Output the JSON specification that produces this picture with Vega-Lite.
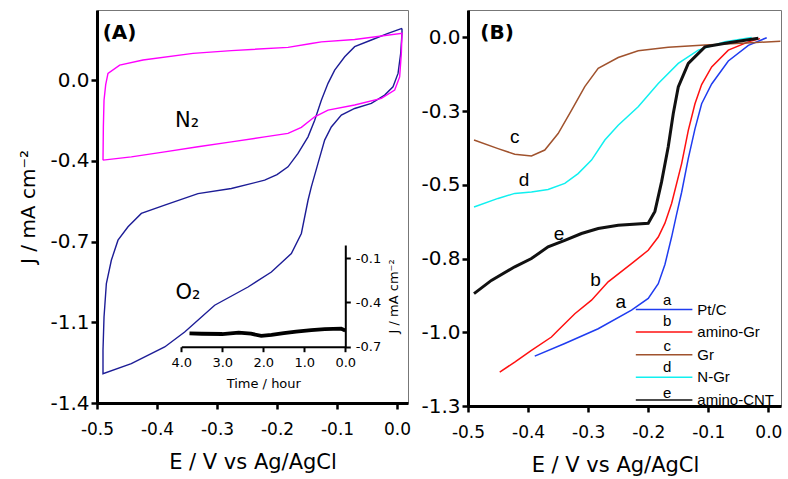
{
  "$schema": "https://vega.github.io/schema/vega-lite/v6.json",
  "padding": {"left": 18, "top": 9, "right": 0, "bottom": 0},
  "bounds": "flush",
  "spacing": 60,
  "resolve": {"scale": {"color": "independent"}, "legend": {"color": "independent"}},
  "config": {
    "font": "Liberation Sans",
    "locale": {"number": {"decimal": ".", "thousands": ",", "grouping": [3], "currency": ["$", ""], "minus": "-"}},
    "view": {"stroke": "#777777", "strokeWidth": 1},
    "axis": {
      "labelFont": "DejaVu Sans", "titleFont": "DejaVu Sans",
      "domainColor": "#000000", "tickColor": "#000000", "labelColor": "#000000", "titleColor": "#000000",
      "titleFontWeight": "normal", "grid": false, "domainWidth": 3, "tickWidth": 2.5, "tickSize": 6,
      "labelOverlap": false, "labelFlush": false
    },
    "text": {"font": "Liberation Sans", "color": "#000000"}
  },
  "datasets": {
    "cv": [
      {"s": "O2", "i": 0, "E": 0.0083, "J": 0.224},
      {"s": "O2", "i": 1, "E": -0.015, "J": 0.203},
      {"s": "O2", "i": 2, "E": -0.0428, "J": 0.174},
      {"s": "O2", "i": 3, "E": -0.0706, "J": 0.145},
      {"s": "O2", "i": 4, "E": -0.0872, "J": 0.101},
      {"s": "O2", "i": 5, "E": -0.1039, "J": 0.043},
      {"s": "O2", "i": 6, "E": -0.115, "J": -0.014},
      {"s": "O2", "i": 7, "E": -0.1261, "J": -0.087},
      {"s": "O2", "i": 8, "E": -0.1372, "J": -0.174},
      {"s": "O2", "i": 9, "E": -0.1483, "J": -0.246},
      {"s": "O2", "i": 10, "E": -0.165, "J": -0.318},
      {"s": "O2", "i": 11, "E": -0.1817, "J": -0.376},
      {"s": "O2", "i": 12, "E": -0.2, "J": -0.41},
      {"s": "O2", "i": 13, "E": -0.2206, "J": -0.434},
      {"s": "O2", "i": 14, "E": -0.2761, "J": -0.47},
      {"s": "O2", "i": 15, "E": -0.3317, "J": -0.492},
      {"s": "O2", "i": 16, "E": -0.3872, "J": -0.542},
      {"s": "O2", "i": 17, "E": -0.4261, "J": -0.578},
      {"s": "O2", "i": 18, "E": -0.4483, "J": -0.636},
      {"s": "O2", "i": 19, "E": -0.465, "J": -0.694},
      {"s": "O2", "i": 20, "E": -0.4761, "J": -0.781},
      {"s": "O2", "i": 21, "E": -0.4844, "J": -0.882},
      {"s": "O2", "i": 22, "E": -0.4883, "J": -1.027},
      {"s": "O2", "i": 23, "E": -0.49, "J": -1.171},
      {"s": "O2", "i": 24, "E": -0.49, "J": -1.273},
      {"s": "O2", "i": 25, "E": -0.4428, "J": -1.229},
      {"s": "O2", "i": 26, "E": -0.3872, "J": -1.157},
      {"s": "O2", "i": 27, "E": -0.3539, "J": -1.092},
      {"s": "O2", "i": 28, "E": -0.3039, "J": -0.976},
      {"s": "O2", "i": 29, "E": -0.2483, "J": -0.897},
      {"s": "O2", "i": 30, "E": -0.2094, "J": -0.832},
      {"s": "O2", "i": 31, "E": -0.1761, "J": -0.752},
      {"s": "O2", "i": 32, "E": -0.1594, "J": -0.665},
      {"s": "O2", "i": 33, "E": -0.1483, "J": -0.521},
      {"s": "O2", "i": 34, "E": -0.1428, "J": -0.463},
      {"s": "O2", "i": 35, "E": -0.1317, "J": -0.361},
      {"s": "O2", "i": 36, "E": -0.1206, "J": -0.26},
      {"s": "O2", "i": 37, "E": -0.1095, "J": -0.203},
      {"s": "O2", "i": 38, "E": -0.0928, "J": -0.152},
      {"s": "O2", "i": 39, "E": -0.0706, "J": -0.123},
      {"s": "O2", "i": 40, "E": -0.0428, "J": -0.101},
      {"s": "O2", "i": 41, "E": -0.0206, "J": -0.065},
      {"s": "O2", "i": 42, "E": -0.0067, "J": -0.029},
      {"s": "O2", "i": 43, "E": 0.0017, "J": 0.029},
      {"s": "O2", "i": 44, "E": 0.0061, "J": 0.116},
      {"s": "O2", "i": 45, "E": 0.0083, "J": 0.203},
      {"s": "O2", "i": 46, "E": 0.0083, "J": 0.224},
      {"s": "N2", "i": 0, "E": -0.49, "J": -0.347},
      {"s": "N2", "i": 1, "E": -0.4894, "J": -0.203},
      {"s": "N2", "i": 2, "E": -0.4883, "J": -0.087},
      {"s": "N2", "i": 3, "E": -0.4855, "J": -0.02},
      {"s": "N2", "i": 4, "E": -0.4817, "J": 0.029},
      {"s": "N2", "i": 5, "E": -0.4622, "J": 0.065},
      {"s": "N2", "i": 6, "E": -0.4233, "J": 0.087},
      {"s": "N2", "i": 7, "E": -0.34, "J": 0.116},
      {"s": "N2", "i": 8, "E": -0.2761, "J": 0.128},
      {"s": "N2", "i": 9, "E": -0.1817, "J": 0.142},
      {"s": "N2", "i": 10, "E": -0.1428, "J": 0.159},
      {"s": "N2", "i": 11, "E": -0.1261, "J": 0.166},
      {"s": "N2", "i": 12, "E": -0.0706, "J": 0.176},
      {"s": "N2", "i": 13, "E": 0.0083, "J": 0.203},
      {"s": "N2", "i": 14, "E": 0.0072, "J": 0.116},
      {"s": "N2", "i": 15, "E": 0.0044, "J": 0.014},
      {"s": "N2", "i": 16, "E": -0.0039, "J": -0.043},
      {"s": "N2", "i": 17, "E": -0.0261, "J": -0.079},
      {"s": "N2", "i": 18, "E": -0.0706, "J": -0.108},
      {"s": "N2", "i": 19, "E": -0.115, "J": -0.13},
      {"s": "N2", "i": 20, "E": -0.1372, "J": -0.159},
      {"s": "N2", "i": 21, "E": -0.1594, "J": -0.205},
      {"s": "N2", "i": 22, "E": -0.1817, "J": -0.231},
      {"s": "N2", "i": 23, "E": -0.2206, "J": -0.246},
      {"s": "N2", "i": 24, "E": -0.2761, "J": -0.268},
      {"s": "N2", "i": 25, "E": -0.3317, "J": -0.289},
      {"s": "N2", "i": 26, "E": -0.3872, "J": -0.311},
      {"s": "N2", "i": 27, "E": -0.4428, "J": -0.333},
      {"s": "N2", "i": 28, "E": -0.49, "J": -0.347}
    ],
    "annA": [
      {"E": -0.35, "J": -0.178, "label": "N₂"},
      {"E": -0.3483, "J": -0.925, "label": "O₂"}
    ],
    "titleA": [{"E": -0.4625, "J": 0.206, "label": "(A)"}],
    "stab": [
      {"t": 3.8, "Jt": -0.609},
      {"t": 3.5, "Jt": -0.612},
      {"t": 3.0, "Jt": -0.614},
      {"t": 2.6, "Jt": -0.605},
      {"t": 2.3, "Jt": -0.612},
      {"t": 2.05, "Jt": -0.627},
      {"t": 1.8, "Jt": -0.62},
      {"t": 1.5, "Jt": -0.608},
      {"t": 1.2, "Jt": -0.597},
      {"t": 0.83, "Jt": -0.587},
      {"t": 0.5, "Jt": -0.581},
      {"t": 0.1, "Jt": -0.578},
      {"t": 0.0, "Jt": -0.59}
    ],
    "lsv": [
      {"s": "Pt/C", "E": -0.3889, "J": -1.081},
      {"s": "Pt/C", "E": -0.3389, "J": -1.038},
      {"s": "Pt/C", "E": -0.2833, "J": -0.988},
      {"s": "Pt/C", "E": -0.2278, "J": -0.925},
      {"s": "Pt/C", "E": -0.2, "J": -0.885},
      {"s": "Pt/C", "E": -0.1833, "J": -0.835},
      {"s": "Pt/C", "E": -0.1722, "J": -0.77},
      {"s": "Pt/C", "E": -0.1611, "J": -0.677},
      {"s": "Pt/C", "E": -0.1528, "J": -0.6},
      {"s": "Pt/C", "E": -0.1444, "J": -0.525},
      {"s": "Pt/C", "E": -0.1333, "J": -0.41},
      {"s": "Pt/C", "E": -0.1222, "J": -0.31},
      {"s": "Pt/C", "E": -0.1111, "J": -0.225},
      {"s": "Pt/C", "E": -0.0944, "J": -0.158},
      {"s": "Pt/C", "E": -0.0667, "J": -0.08},
      {"s": "Pt/C", "E": -0.0333, "J": -0.027},
      {"s": "Pt/C", "E": -0.0028, "J": -0.001},
      {"s": "amino-Gr", "E": -0.4472, "J": -1.135},
      {"s": "amino-Gr", "E": -0.4222, "J": -1.101},
      {"s": "amino-Gr", "E": -0.3944, "J": -1.061},
      {"s": "amino-Gr", "E": -0.3611, "J": -1.016},
      {"s": "amino-Gr", "E": -0.35, "J": -0.993},
      {"s": "amino-Gr", "E": -0.3222, "J": -0.937},
      {"s": "amino-Gr", "E": -0.2944, "J": -0.891},
      {"s": "amino-Gr", "E": -0.2667, "J": -0.829},
      {"s": "amino-Gr", "E": -0.2278, "J": -0.767},
      {"s": "amino-Gr", "E": -0.2, "J": -0.722},
      {"s": "amino-Gr", "E": -0.1833, "J": -0.677},
      {"s": "amino-Gr", "E": -0.1722, "J": -0.63},
      {"s": "amino-Gr", "E": -0.1611, "J": -0.563},
      {"s": "amino-Gr", "E": -0.1444, "J": -0.428},
      {"s": "amino-Gr", "E": -0.1333, "J": -0.315},
      {"s": "amino-Gr", "E": -0.1222, "J": -0.225},
      {"s": "amino-Gr", "E": -0.1111, "J": -0.16},
      {"s": "amino-Gr", "E": -0.0944, "J": -0.1},
      {"s": "amino-Gr", "E": -0.0667, "J": -0.043},
      {"s": "amino-Gr", "E": -0.0333, "J": -0.015},
      {"s": "amino-Gr", "E": -0.0139, "J": -0.004},
      {"s": "Gr", "E": -0.49, "J": -0.348},
      {"s": "Gr", "E": -0.45, "J": -0.377},
      {"s": "Gr", "E": -0.4222, "J": -0.396},
      {"s": "Gr", "E": -0.3944, "J": -0.402},
      {"s": "Gr", "E": -0.3722, "J": -0.382},
      {"s": "Gr", "E": -0.35, "J": -0.326},
      {"s": "Gr", "E": -0.3278, "J": -0.247},
      {"s": "Gr", "E": -0.3056, "J": -0.167},
      {"s": "Gr", "E": -0.2833, "J": -0.105},
      {"s": "Gr", "E": -0.25, "J": -0.068},
      {"s": "Gr", "E": -0.2167, "J": -0.045},
      {"s": "Gr", "E": -0.1667, "J": -0.033},
      {"s": "Gr", "E": -0.1056, "J": -0.026},
      {"s": "Gr", "E": -0.0278, "J": -0.018},
      {"s": "Gr", "E": 0.02, "J": -0.013},
      {"s": "N-Gr", "E": -0.49, "J": -0.575},
      {"s": "N-Gr", "E": -0.45, "J": -0.546},
      {"s": "N-Gr", "E": -0.4222, "J": -0.529},
      {"s": "N-Gr", "E": -0.3944, "J": -0.524},
      {"s": "N-Gr", "E": -0.3667, "J": -0.516},
      {"s": "N-Gr", "E": -0.3389, "J": -0.495},
      {"s": "N-Gr", "E": -0.3167, "J": -0.462},
      {"s": "N-Gr", "E": -0.2944, "J": -0.416},
      {"s": "N-Gr", "E": -0.2722, "J": -0.348},
      {"s": "N-Gr", "E": -0.25, "J": -0.298},
      {"s": "N-Gr", "E": -0.2167, "J": -0.235},
      {"s": "N-Gr", "E": -0.1833, "J": -0.156},
      {"s": "N-Gr", "E": -0.15, "J": -0.088},
      {"s": "N-Gr", "E": -0.1167, "J": -0.043},
      {"s": "N-Gr", "E": -0.0722, "J": -0.015},
      {"s": "N-Gr", "E": -0.0278, "J": 0.0}
    ],
    "lsvE": [
      {"s": "amino-CNT", "E": -0.49, "J": -0.869},
      {"s": "amino-CNT", "E": -0.4611, "J": -0.824},
      {"s": "amino-CNT", "E": -0.4222, "J": -0.778},
      {"s": "amino-CNT", "E": -0.3944, "J": -0.75},
      {"s": "amino-CNT", "E": -0.3667, "J": -0.71},
      {"s": "amino-CNT", "E": -0.3389, "J": -0.688},
      {"s": "amino-CNT", "E": -0.3111, "J": -0.665},
      {"s": "amino-CNT", "E": -0.2833, "J": -0.648},
      {"s": "amino-CNT", "E": -0.25, "J": -0.637},
      {"s": "amino-CNT", "E": -0.2, "J": -0.63},
      {"s": "amino-CNT", "E": -0.1889, "J": -0.59},
      {"s": "amino-CNT", "E": -0.1778, "J": -0.49},
      {"s": "amino-CNT", "E": -0.1667, "J": -0.371},
      {"s": "amino-CNT", "E": -0.1583, "J": -0.258},
      {"s": "amino-CNT", "E": -0.15, "J": -0.168},
      {"s": "amino-CNT", "E": -0.1333, "J": -0.088},
      {"s": "amino-CNT", "E": -0.1056, "J": -0.032},
      {"s": "amino-CNT", "E": -0.0667, "J": -0.018},
      {"s": "amino-CNT", "E": -0.0167, "J": -0.003}
    ],
    "annB": [
      {"E": -0.4222, "J": -0.337, "label": "c"},
      {"E": -0.4067, "J": -0.484, "label": "d"},
      {"E": -0.3483, "J": -0.665, "label": "e"},
      {"E": -0.2878, "J": -0.824, "label": "b"},
      {"E": -0.2456, "J": -0.897, "label": "a"}
    ],
    "legLetters": [
      {"E": -0.1683, "J": -0.891, "label": "a"},
      {"E": -0.1683, "J": -0.962, "label": "b"},
      {"E": -0.1683, "J": -1.046, "label": "c"},
      {"E": -0.1683, "J": -1.118, "label": "d"},
      {"E": -0.1683, "J": -1.206, "label": "e"}
    ],
    "titleB": [{"E": -0.4517, "J": 0.016, "label": "(B)"}]
  },
  "hconcat": [
    {
      "width": 311,
      "height": 393,
      "layer": [
        {
          "layer": [
            {
              "data": {"name": "cv"},
              "mark": {"type": "line", "strokeWidth": 1.4},
              "encoding": {
                "x": {"field": "E", "type": "quantitative",
                  "scale": {"domain": [-0.5, 0.0183], "nice": false, "zero": false},
                  "axis": {"values": [-0.5, -0.4, -0.3, -0.2, -0.1, 0], "format": ".1f", "title": "E / V vs Ag/AgCl",
                    "labelFontSize": 17, "titleFontSize": 21, "labelPadding": 12, "titlePadding": 14}},
                "y": {"field": "J", "type": "quantitative",
                  "scale": {"domain": [-1.4, 0.304], "nice": false, "zero": false},
                  "axis": {"values": [0, -0.35, -0.7, -1.05, -1.4], "labelExpr": "format(datum.value - 0.0001, '.1f')",
                    "title": "J / mA cm⁻²", "labelFontSize": 20, "titleFontSize": 20, "labelPadding": 2, "titlePadding": 11}},
                "color": {"field": "s", "type": "nominal", "scale": {"domain": ["O2", "N2"], "range": ["#1c1c96", "#ff00ff"]}, "legend": null},
                "order": {"field": "i", "type": "quantitative"}
              }
            },
            {
              "data": {"name": "annA"},
              "mark": {"type": "text", "fontSize": 21, "font": "DejaVu Sans"},
              "encoding": {
                "x": {"field": "E", "type": "quantitative"},
                "y": {"field": "J", "type": "quantitative"},
                "text": {"field": "label"}
              }
            },
            {
              "data": {"name": "titleA"},
              "mark": {"type": "text", "fontSize": 20, "fontWeight": "bold", "font": "DejaVu Sans"},
              "encoding": {
                "x": {"field": "E", "type": "quantitative"},
                "y": {"field": "J", "type": "quantitative"},
                "text": {"field": "label"}
              }
            }
          ]
        },
        {
          "data": {"name": "stab"},
          "mark": {"type": "line", "strokeWidth": 3.8, "color": "#000000"},
          "encoding": {
            "x": {"field": "t", "type": "quantitative",
              "scale": {"domain": [4, 0], "range": [84.3, 248.3], "nice": false, "zero": false},
              "axis": {"orient": "bottom", "offset": -56.3, "values": [4, 3, 2, 1, 0], "format": ".1f", "title": "Time / hour",
                "labelFontSize": 13, "titleFontSize": 13, "domainWidth": 2, "tickWidth": 2, "tickSize": 5, "labelPadding": 5, "titlePadding": 8}},
            "y": {"field": "Jt", "type": "quantitative",
              "scale": {"domain": [-0.7, -0.01], "range": [336.7, 235], "nice": false, "zero": false},
              "axis": {"orient": "right", "offset": -62.7, "values": [-0.1, -0.4, -0.7], "format": ".1f", "title": "J / mA cm⁻²",
                "titleAngle": 270, "titleBaseline": "top", "labelFontSize": 13, "titleFontSize": 13, "domainWidth": 2, "tickWidth": 2, "tickSize": 5, "labelPadding": 5, "titlePadding": 7}}
          }
        }
      ],
      "resolve": {"scale": {"x": "independent", "y": "independent"}, "axis": {"x": "independent", "y": "independent"}}
    },
    {
      "width": 313,
      "height": 396,
      "layer": [
        {
          "data": {"name": "lsv"},
          "mark": {"type": "line", "strokeWidth": 1.5},
          "encoding": {
            "x": {"field": "E", "type": "quantitative",
              "scale": {"domain": [-0.5, 0.021], "nice": false, "zero": false},
              "axis": {"values": [-0.5, -0.4, -0.3, -0.2, -0.1, 0], "format": ".1f", "title": "E / V vs Ag/AgCl",
                "labelFontSize": 17, "titleFontSize": 21, "labelPadding": 12, "titlePadding": 14, "titleX": 147}},
            "y": {"field": "J", "type": "quantitative",
              "scale": {"domain": [-1.25, 0.093], "nice": false, "zero": false},
              "axis": {"values": [0, -0.25, -0.5, -0.75, -1, -1.25], "labelExpr": "format(datum.value - 0.0001, '.1f')",
                "title": null, "labelFontSize": 20, "labelPadding": 2}},
            "color": {"field": "s", "type": "nominal",
              "scale": {"domain": ["Pt/C", "amino-Gr", "Gr", "N-Gr", "amino-CNT"], "range": ["#1f3cf0", "#ff1010", "#a0522d", "#10f0f0", "#111111"]},
              "legend": {"orient": "none", "legendX": 188.6, "legendY": 292, "title": null, "symbolType": "M-5,0H5", "symbolSize": 128,
                "symbolStrokeWidth": 1.5, "labelFontSize": 15, "labelFont": "Liberation Sans", "labelColor": "#000000", "labelOffset": 25.7, "rowPadding": 6.6, "padding": 0}}
          }
        },
        {
          "data": {"name": "lsvE"},
          "mark": {"type": "line", "strokeWidth": 3},
          "encoding": {
            "x": {"field": "E", "type": "quantitative"},
            "y": {"field": "J", "type": "quantitative"},
            "color": {"field": "s", "type": "nominal"}
          }
        },
        {
          "data": {"name": "annB"},
          "mark": {"type": "text", "fontSize": 19},
          "encoding": {
            "x": {"field": "E", "type": "quantitative"},
            "y": {"field": "J", "type": "quantitative"},
            "text": {"field": "label"}
          }
        },
        {
          "data": {"name": "legLetters"},
          "mark": {"type": "text", "fontSize": 15},
          "encoding": {
            "x": {"field": "E", "type": "quantitative"},
            "y": {"field": "J", "type": "quantitative"},
            "text": {"field": "label"}
          }
        },
        {
          "data": {"name": "titleB"},
          "mark": {"type": "text", "fontSize": 20, "fontWeight": "bold", "font": "DejaVu Sans"},
          "encoding": {
            "x": {"field": "E", "type": "quantitative"},
            "y": {"field": "J", "type": "quantitative"},
            "text": {"field": "label"}
          }
        }
      ]
    }
  ]
}
